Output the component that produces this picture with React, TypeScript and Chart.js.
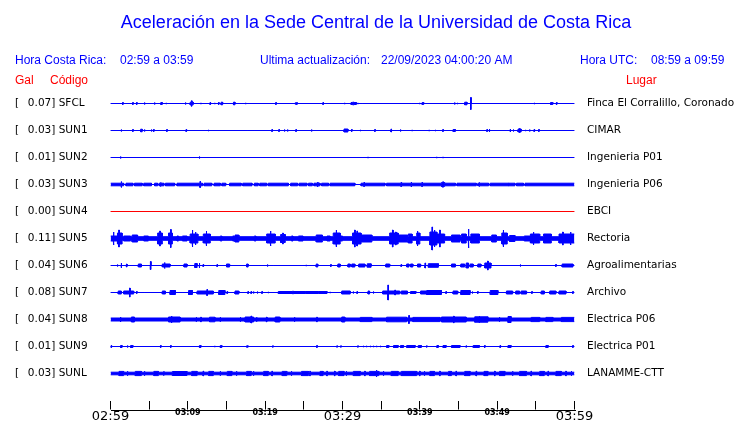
import React, { useEffect, useRef } from 'react';
import { Chart, registerables } from 'chart.js';

Chart.register(...registerables);

// ---------------- data ----------------
const titleText = 'Aceleración en la Sede Central de la Universidad de Costa Rica';
const localStart = '02:59';
const localEnd = '03:59';
const utcStart = '08:59';
const utcEnd = '09:59';
const lastUpdate = '22/09/2023 04:00:20 AM';

const stationCodes = ['SFCL', 'SUN1', 'SUN2', 'SUN3', 'SUN4', 'SUN5', 'SUN6', 'SUN7', 'SUN8', 'SUN9', 'SUNL'];
const peakGal = [0.07, 0.03, 0.01, 0.03, 0.0, 0.11, 0.04, 0.08, 0.04, 0.01, 0.03];
const places = [
  'Finca El Corralillo, Coronado',
  'CIMAR',
  'Ingenieria P01',
  'Ingenieria P06',
  'EBCI',
  'Rectoria',
  'Agroalimentarias',
  'Archivo',
  'Electrica P06',
  'Electrica P01',
  'LANAMME-CTT',
];
const traceColors = ['#0000ff', '#0000ff', '#0000ff', '#0000ff', '#ff0000', '#0000ff', '#0000ff', '#0000ff', '#0000ff', '#0000ff', '#0000ff'];
const timeTickLabels = ['02:59', '', '03:09', '', '03:19', '', '03:29', '', '03:39', '', '03:49', '', '03:59'];
const majorTickLabels = ['02:59', '03:29', '03:59'];

// background (noise) half-amplitude of each trace
const baseAmp = [0.5, 0.5, 0.5, 1.8, 0.5, 2.3, 0.5, 0.5, 2, 0.5, 1.8];

// events: [minute, amplitude] = short spike ; [fromMinute, toMinute, amplitude] = burst
const sfclEvents = [
  [1.6, 1.5], [2.9, 1.5], [3.4, 1.5], [4.4, 1.5], [5.7, 1.5], [6.5, 6.7, 1.5], [7.2, 1], [9.7, 1.5],
  [10.3, 10.7, 1.8], [10.5, 3.2], [11.7, 1], [12.9, 1.5], [13.5, 1], [14.0, 1.5], [14.3, 14.5, 1.8],
  [15.9, 16.1, 1.8], [17.5, 1], [21.4, 1.5], [23.9, 1.5], [24.1, 1.5], [27.5, 1.5], [30.3, 1],
  [31.1, 31.8, 1.5], [31.3, 31.5, 1.8], [32.0, 1], [32.6, 1], [38.9, 1], [40.0, 1], [40.3, 40.5, 1.5], [44.5, 1.5],
  [44.9, 1], [45.8, 46.1, 1.8], [46.6, 6.5], [54.8, 1], [56.9, 57.2, 1.5], [57.7, 1.5],
];
const sun1Events = [
  [1.4, 1.5], [2.9, 1.5], [3.9, 4.1, 1.8], [4.4, 1.5], [5.3, 1.5], [5.6, 1.5], [7.3, 1.5], [9.8, 1.5],
  [12.7, 1], [17.7, 1], [18.6, 1], [20.9, 1.5], [21.8, 1.5], [22.5, 1.5], [22.9, 1.5], [24.0, 1.5],
  [26.0, 1.5], [30.2, 30.7, 2], [31.2, 1.5], [32.3, 1], [34.2, 1.5], [35.8, 1], [36.3, 2], [37.5, 1.5],
  [39.0, 1], [41.2, 1], [42.0, 1], [43.0, 1.5], [44.3, 44.6, 1.5], [48.7, 1.5], [49.0, 2], [51.2, 1],
  [51.7, 2], [52.1, 1.5], [52.7, 53.1, 2], [52.9, 2.8], [53.7, 1], [54.2, 1.5], [54.8, 1.5], [55.4, 1.5],
];
const sun2Events = [[1.3, 1.5], [11.5, 1.5], [33.3, 1], [42.2, 1], [43.0, 1]];
const sun3Events = [
  [1.4, 3.5], [6.5, 2.2], [11.6, 3.5], [26.8, 2.5], [32.8, 2.5], [37.6, 2.5], [38.9, 3], [40.3, 2.5],
  [42.8, 43.2, 2.5], [43.0, 3.2], [47.7, 2.5], [51.5, 2],
];
const sun3Gaps = [
  [1.7, 2.0], [2.9, 3.1], [4.1, 4.3], [5.3, 5.7], [6.1, 6.3], [6.9, 7.1], [8.3, 8.6], [11.9, 12.1],
  [13.1, 13.4], [14.2, 14.4], [14.9, 15.4], [16.9, 17.1], [18.3, 18.6], [19.1, 19.3], [20.2, 20.4],
  [23.0, 23.3], [24.2, 24.4], [25.4, 25.6], [26.1, 26.3], [27.1, 27.3], [28.2, 28.4], [31.6, 32.4],
  [35.5, 35.7], [44.6, 44.8], [47.3, 47.5], [48.9, 49.1], [52.3, 52.5], [53.4, 53.6],
];
const sun4Events: number[][] = [];
const sun5Events = [
  [0, 0.9, 3], [0.4, 7], [0.9, 1.5, 6], [1.1, 9], [1.7, 2.6, 3], [2.8, 3.5, 4], [4.3, 4.9, 3],
  [6.1, 6.7, 6], [6.4, 8], [7.5, 8.0, 6], [7.8, 9.5], [8.6, 8.8, 3], [9.3, 9.9, 3],
  [10.3, 11.3, 5], [10.6, 9], [11.0, 7], [12.0, 12.9, 5], [12.4, 8], [14.2, 14.4, 3],
  [15.8, 16.0, 3], [16.1, 16.6, 4], [18.6, 18.8, 3], [20.2, 21.3, 5], [20.7, 8],
  [22.0, 22.6, 4.5], [22.3, 6], [23.4, 23.6, 3], [24.3, 24.9, 3], [26.6, 27.4, 4], [28.0, 28.4, 3],
  [28.8, 29.7, 6], [29.2, 9], [29.7, 30.0, 3], [31.3, 32.4, 6], [31.6, 9], [31.9, 8], [32.4, 33.8, 4],
  [36.1, 37.2, 6], [36.5, 9], [36.9, 7], [37.2, 38.4, 4], [38.5, 39.0, 5], [39.6, 40.0, 6], [39.7, 8],
  [41.3, 42.2, 7], [41.6, 12], [41.9, 9], [42.2, 43.2, 5], [42.6, 9], [44.1, 45.2, 4], [45.4, 46.0, 5],
  [46.3, 10], [46.6, 47.7, 5], [49.3, 49.9, 4], [50.6, 51.3, 6], [50.8, 9], [51.6, 52.3, 3.5],
  [53.5, 54.5, 3], [54.3, 55.5, 5], [54.7, 7], [56.0, 57.0, 5], [58.0, 60, 5], [58.5, 7], [59.5, 7],
];
const sun6Events = [
  [0.9, 1.5], [1.4, 3], [2.1, 2], [3.6, 4.0, 2], [5.2, 4.5], [6.7, 7.7, 2], [7.0, 3.5], [9.5, 9.9, 2],
  [10.9, 11.2, 2.5], [11.5, 3], [12.0, 1.5], [13.8, 1.5], [15.0, 15.4, 2], [17.6, 17.8, 2], [20.3, 1.5],
  [21.1, 1], [25.3, 1], [26.6, 26.8, 2], [28.5, 1.5], [29.4, 29.7, 2], [30.7, 31.0, 2], [31.2, 31.6, 2],
  [32.1, 32.9, 2], [33.2, 33.7, 2.2], [35.6, 36.1, 2], [37.6, 1.5], [38.3, 38.6, 2], [38.8, 39.1, 2],
  [39.7, 40.1, 2], [40.7, 3], [41.1, 42.4, 2.3], [44.1, 44.6, 2], [45.3, 45.8, 2], [46.0, 46.3, 3],
  [46.5, 46.9, 2], [47.5, 47.9, 2], [48.4, 49.2, 3], [48.8, 5], [53.0, 1.5], [57.6, 1.5], [58.4, 59.8, 2],
];
const sun7Events = [
  [1.0, 1.4, 2], [1.7, 3.0, 2], [2.5, 5], [3.4, 1.5], [4.4, 1], [6.7, 7.1, 2], [7.7, 8.4, 2.5], [9.3, 1],
  [10.1, 10.6, 2.5], [11.2, 13.3, 2], [12.5, 3.5], [14.0, 14.8, 2.5], [15.1, 1.5], [16.1, 16.6, 2],
  [17.8, 1.5], [18.2, 1.5], [18.5, 1.5], [19.0, 1.5], [19.6, 1.5], [20.4, 1], [21.7, 28.0, 1.5],
  [23.6, 2], [25.2, 2], [26.9, 2], [28.4, 1], [29.9, 31.0, 2], [31.4, 1.5], [31.9, 1.5], [33.3, 33.5, 2],
  [34.0, 1.5], [35.2, 37.4, 2], [35.9, 8], [36.8, 3], [37.6, 38.4, 2], [38.8, 39.5, 1.5], [40.1, 40.8, 2],
  [40.9, 42.8, 2.5], [43.4, 1.5], [44.3, 44.9, 2], [45.3, 46.5, 2.5], [46.8, 1.5], [47.5, 1.5],
  [49.1, 50.1, 2.5], [51.2, 52.0, 2], [52.4, 52.9, 2], [53.1, 53.8, 2], [54.5, 1.5], [55.7, 56.1, 2],
  [56.8, 57.6, 2], [58.0, 58.9, 2], [59.8, 1.5],
];
const sun8Events = [
  [1.3, 3], [2.7, 3.1, 3], [7.5, 9.0, 3], [7.9, 4], [11.1, 2.8], [11.7, 2.8], [12.8, 13.5, 2.8], [14.2, 2.8],
  [16.8, 2.8], [17.4, 18.5, 3], [18.2, 4], [18.9, 2.8], [20.2, 2.8], [21.3, 21.9, 3], [23.8, 2.8],
  [26.7, 2.8], [29.9, 30.3, 3], [32.3, 33.8, 2.6], [35.7, 38.3, 2.8], [38.6, 4.5], [39.1, 42.6, 2.6],
  [42.8, 46.0, 3], [44.4, 3.8], [47.1, 48.8, 3.2], [47.7, 4], [50.3, 2.8], [51.4, 51.8, 3.5],
  [54.4, 55.5, 2.6], [56.3, 57.2, 2.6], [58.3, 60, 2.6],
];
const sun9Events = [
  [0.1, 1.5], [1.3, 1.5, 1.5], [2.2, 1.5], [2.6, 2.9, 1.5], [6.5, 1.5], [7.8, 1.5], [11.5, 11.7, 1.5],
  [13.5, 1], [14.2, 14.4, 1.5], [17.6, 17.8, 1.2], [21.0, 1.2], [26.7, 1.5], [29.3, 1.2], [29.8, 1.2],
  [32.0, 1.2], [32.7, 1.2], [33.1, 1.2], [33.6, 1.2], [34.0, 1.2], [34.4, 1.2], [34.9, 1.2],
  [35.7, 36.0, 1.5], [36.6, 37.2, 1.5], [37.5, 37.9, 1.5], [38.3, 39.4, 1.5], [39.8, 40.2, 1.5],
  [40.9, 1.2], [42.2, 42.4, 1.5], [43.0, 43.4, 1.5], [44.1, 45.2, 1.5], [46.0, 1.2], [46.9, 47.7, 1.5],
  [48.4, 1.5], [50.4, 1.5], [51.4, 51.8, 1.5], [56.3, 56.6, 1.5], [59.8, 1.5],
];
const sunlEvents = [
  [1.1, 1.7, 2.6], [2.2, 2.8], [3.2, 4.0, 2.6], [4.4, 2.8], [5.6, 6.2, 2.6], [6.9, 2.3], [8.0, 9.9, 2.5],
  [10.5, 11.2, 2.6], [12.0, 2.8], [12.7, 13.3, 2.6], [14.2, 2.8], [15.1, 15.7, 2.6], [16.3, 2.8],
  [17.6, 18.2, 2.6], [18.5, 2.8], [19.8, 20.4, 2.6], [20.9, 2.8], [22.2, 22.8, 2.6], [23.4, 2.8],
  [24.7, 25.6, 2.6], [25.8, 2.8], [27.1, 27.5, 2.6], [28.0, 2.8], [29.0, 2.8], [29.5, 30.2, 2.6],
  [30.5, 2.8], [31.4, 32.3, 2.6], [32.9, 2.8], [33.5, 34.7, 2.6], [34.4, 4], [35.3, 2.8],
  [36.3, 37.2, 2.6], [37.6, 39.6, 2.6], [40.0, 2.8], [40.6, 2.8], [41.3, 41.9, 2.6], [42.6, 2.8],
  [43.7, 44.1, 2.6], [44.7, 2.8], [45.8, 46.5, 2.6], [47.3, 2.8], [48.3, 48.8, 2.6], [49.7, 2.8],
  [50.3, 51.0, 2.6], [52.0, 2.8], [52.9, 53.8, 2.6], [54.4, 2.8], [55.5, 56.1, 2.6], [56.6, 2.8],
  [57.6, 58.3, 2.6], [58.9, 2.8], [59.6, 2.8],
];

const traceEvents = [
  sfclEvents, sun1Events, sun2Events, sun3Events, sun4Events, sun5Events,
  sun6Events, sun7Events, sun8Events, sun9Events, sunlEvents,
];
const traceGaps: number[][][] = [[], [], [], sun3Gaps, [], [], [], [], [], [], []];

// ---------------- helpers ----------------
const ROW = 27; // amplitude units between neighbouring traces
const SPIKE_HALF_WIDTH = 0.04; // minutes
const LINE_HALF = 0.5;

type Pt = { x: number; y: number };

function buildEnvelope(center: number, base: number, events: number[][], gaps: number[][]) {
  const iv = events.map((e) =>
    e.length === 2 ? [e[0] - SPIKE_HALF_WIDTH, e[0] + SPIKE_HALF_WIDTH, e[1]] : [e[0], e[1], e[2]]
  );
  const cuts: number[] = [0, 60];
  iv.forEach((v) => cuts.push(Math.max(0, v[0]), Math.min(60, v[1])));
  gaps.forEach((g) => cuts.push(g[0], g[1]));
  const xs = Array.from(new Set(cuts)).sort((a, b) => a - b);
  const upper: Pt[] = [];
  const lower: Pt[] = [];
  for (let k = 0; k < xs.length - 1; k++) {
    const a = xs[k];
    const b = xs[k + 1];
    if (b - a < 1e-9) continue;
    const m = (a + b) / 2;
    let amp = gaps.some((g) => m >= g[0] && m <= g[1]) ? LINE_HALF : base;
    for (const v of iv) if (m >= v[0] && m <= v[1]) amp = Math.max(amp, v[2]);
    const h = Math.max(0, amp - LINE_HALF);
    upper.push({ x: a, y: center - h }, { x: b, y: center - h });
    lower.push({ x: a, y: center + h }, { x: b, y: center + h });
  }
  return { upper, lower };
}

const SANS = '"Liberation Sans", Arial, Helvetica, sans-serif';
const DEJAVU = '"DejaVu Sans", sans-serif';

const headerPlugin = {
  id: 'seisHeader',
  afterDraw(chart: any) {
    const { ctx, chartArea, scales } = chart;
    ctx.save();
    // axis base line under the ticks
    const xs = scales.x;
    const yLine = Math.round(chartArea.bottom + 9) + 0.5;
    ctx.strokeStyle = '#000';
    ctx.lineWidth = 1;
    ctx.beginPath();
    ctx.moveTo(Math.round(xs.getPixelForValue(0)), yLine);
    ctx.lineTo(Math.round(xs.getPixelForValue(60)) + 1, yLine);
    ctx.stroke();

    ctx.textBaseline = 'middle';
    ctx.fillStyle = '#0000ff';
    ctx.font = `18px ${SANS}`;
    ctx.textAlign = 'center';
    ctx.fillText(titleText, 376, 23);

    ctx.font = `12px ${SANS}`;
    ctx.textAlign = 'left';
    ctx.fillText('Hora Costa Rica:', 15, 61);
    ctx.fillText(`${localStart} a ${localEnd}`, 120, 61);
    ctx.fillText('Ultima actualización:', 260, 61);
    ctx.fillText(lastUpdate, 381, 61);
    ctx.fillText('Hora UTC:', 580, 61);
    ctx.fillText(`${utcStart} a ${utcEnd}`, 651, 61);

    ctx.fillStyle = '#ff0000';
    ctx.fillText('Gal', 15, 81);
    ctx.fillText('Código', 50, 81);
    ctx.fillText('Lugar', 626, 81);
    ctx.restore();
  },
};

export default function App() {
  const canvasRef = useRef<HTMLCanvasElement | null>(null);

  useEffect(() => {
    const canvas = canvasRef.current;
    if (!canvas) return;
    const datasets: any[] = [];
    stationCodes.forEach((_, i) => {
      const env = buildEnvelope(i * ROW, baseAmp[i], traceEvents[i], traceGaps[i]);
      const color = traceColors[i];
      datasets.push({
        data: env.upper,
        borderColor: color,
        backgroundColor: color,
        borderWidth: 1,
        pointRadius: 0,
        fill: false,
        tension: 0,
      });
      datasets.push({
        data: env.lower,
        borderColor: color,
        backgroundColor: color,
        borderWidth: 1,
        pointRadius: 0,
        fill: '-1',
        tension: 0,
      });
    });

    const chart = new Chart(canvas, {
      type: 'line',
      data: { datasets },
      plugins: [headerPlugin],
      options: {
        responsive: false,
        animation: false,
        parsing: false,
        normalized: true,
        events: [],
        layout: { padding: { left: 15, top: 90, right: 0, bottom: 0 } },
        plugins: {
          legend: { display: false },
          tooltip: { enabled: false },
          title: { display: false },
        },
        scales: {
          x: {
            type: 'linear',
            min: 0,
            max: 60,
            afterBuildTicks: (s: any) => {
              s.ticks = timeTickLabels.map((_, k) => ({ value: k * 5 }));
            },
            afterFit: (s: any) => {
              s.height = 22.5;
            },
            grid: {
              drawOnChartArea: false,
              drawTicks: true,
              tickLength: 9,
              color: '#000',
              lineWidth: 1,
            },
            border: { display: false },
            ticks: {
              autoSkip: false,
              maxRotation: 0,
              padding: -1,
              color: '#000',
              callback: (_v: any, idx: number) => timeTickLabels[idx],
              font: (c: any) => {
                const lbl = timeTickLabels[c.index];
                return majorTickLabels.includes(lbl)
                  ? { family: DEJAVU, size: 13 }
                  : { family: DEJAVU, size: 8, weight: 'bold' };
              },
            },
          },
          y: {
            type: 'linear',
            position: 'left',
            reverse: true,
            min: -ROW / 2,
            max: ROW * stationCodes.length,
            afterBuildTicks: (s: any) => {
              s.ticks = stationCodes.map((_, k) => ({ value: k * ROW }));
            },
            afterFit: (s: any) => {
              s.width = 95.5;
            },
            grid: { display: false, drawTicks: false },
            border: { display: false },
            ticks: {
              autoSkip: false,
              crossAlign: 'far',
              padding: 0,
              color: '#000',
              font: { family: DEJAVU, size: 10.5 },
              callback: (_v: any, idx: number) =>
                `[  \u2009${peakGal[idx].toFixed(2)}] ${stationCodes[idx]}`,
            },
          },
          y2: {
            type: 'linear',
            position: 'right',
            reverse: true,
            min: -ROW / 2,
            max: ROW * stationCodes.length,
            afterBuildTicks: (s: any) => {
              s.ticks = places.map((_, k) => ({ value: k * ROW }));
            },
            afterFit: (s: any) => {
              s.width = 165.5;
            },
            grid: { display: false, drawTicks: false },
            border: { display: false },
            ticks: {
              autoSkip: false,
              crossAlign: 'near',
              padding: 12.5,
              color: '#000',
              font: { family: DEJAVU, size: 10.5 },
              callback: (_v: any, idx: number) => places[idx],
            },
          },
        },
      } as any,
    });
    return () => chart.destroy();
  }, []);

  return (
    <div style={{ position: 'absolute', left: 0, top: 0, width: 740, height: 423, background: '#fff' }}>
      <canvas ref={canvasRef} width={740} height={423} style={{ display: 'block' }} />
    </div>
  );
}
